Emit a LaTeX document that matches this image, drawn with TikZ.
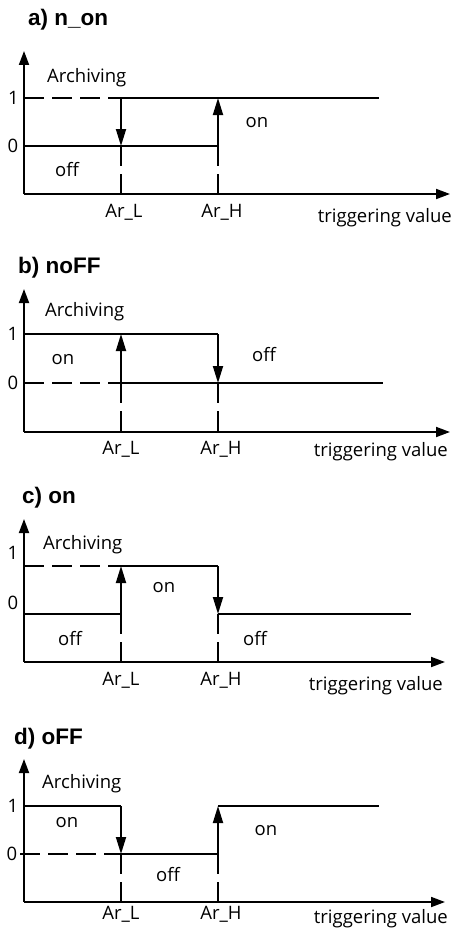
\documentclass[tikz,border=0pt]{standalone}
\usepackage{fontspec}
\setmainfont{Open Sans}
\newfontfamily\titlefont{Liberation Sans}
\usetikzlibrary{arrows.meta}
\newcommand\mkcoords[5]{%
 \coordinate (#1-O) at (24,0);
 \coordinate (#1-Y) at (24,-143);
 \coordinate (#1-X) at (#4,0);
 \coordinate (#1-S1) at (24,#2);
 \coordinate (#1-S0) at (24,#3);
 \coordinate (#1-L1) at (121,#2);
 \coordinate (#1-L0) at (121,#3);
 \coordinate (#1-Lb) at (121,0);
 \coordinate (#1-H1) at (218,#2);
 \coordinate (#1-H0) at (218,#3);
 \coordinate (#1-Hb) at (218,0);
 \coordinate (#1-E1) at (#5,#2);
 \coordinate (#1-E0) at (#5,#3);
 \draw[axisln] (#1-O) -- (#1-Y);
 \draw[axisln] (#1-O) -- (#1-X);
}
\begin{document}
\begin{tikzpicture}[x=1pt,y=-1pt,
  ln/.style={line width=1.8pt},
  axisln/.style={line width=1.8pt,-{Triangle[length=14pt,width=10pt]}},
  arr/.style={line width=1.8pt,-{Triangle[length=17pt,width=10pt]}},
  dsh/.style={line width=1.8pt,dash pattern=on 20pt off 8pt},
  lbl/.style={inner sep=0pt,font=\fontsize{18.5}{22}\selectfont},
  ttl/.style={inner sep=0pt,anchor=base west,font=\titlefont\bfseries\fontsize{22.5}{26}\selectfont},
]
\useasboundingbox (0,0) rectangle (457,934);

% ---------- a) n_on
\begin{scope}[shift={(0,194)}]
\mkcoords{a}{-96}{-48}{450}{379}
\draw[dsh] (a-S1) -- (a-L1);
\draw[ln] (a-L1) -- (a-E1);
\draw[ln] (a-S0) -- (a-H0);
\draw[arr] (a-L1) -- (a-L0);
\draw[dsh] (a-L0) -- (a-Lb);
\draw[arr] (a-H0) -- (a-H1);
\draw[dsh] (a-H0) -- (a-Hb);
\node[ttl] (a-t) at (28,-168) {a) n\_on};
\node[lbl,anchor=base west] (a-arch) at (47,-112) {Archiving};
\node[lbl] (a-one) at (13.5,-96) {1};
\node[lbl] (a-zero) at (13,-48) {0};
\node[lbl] (a-off) at (67,-24) {off};
\node[lbl] (a-on) at (257,-71) {on};
\node[lbl,anchor=base] (a-arl) at (124,23) {Ar\_L};
\node[lbl,anchor=base] (a-arh) at (222,23) {Ar\_H};
\node[lbl,anchor=base east] (a-tv) at (452,28) {triggering value};
\end{scope}

% ---------- b) noFF
\begin{scope}[shift={(0,432)}]
\mkcoords{b}{-98}{-49}{450}{383}
\draw[ln] (b-S1) -- (b-H1);
\draw[dsh] (b-S0) -- (b-L0);
\draw[ln] (b-L0) -- (b-E0);
\draw[arr] (b-L0) -- (b-L1);
\draw[dsh] (b-L0) -- (b-Lb);
\draw[arr] (b-H1) -- (b-H0);
\draw[dsh] (b-H0) -- (b-Hb);
\node[ttl] (b-t) at (18,-159) {b) noFF};
\node[lbl,anchor=base west] (b-arch) at (45,-116) {Archiving};
\node[lbl] (b-one) at (13,-98) {1};
\node[lbl] (b-zero) at (13,-49) {0};
\node[lbl] (b-on) at (63,-72) {on};
\node[lbl] (b-off) at (264,-77) {off};
\node[lbl,anchor=base] (b-arl) at (121,22) {Ar\_L};
\node[lbl,anchor=base] (b-arh) at (221,22) {Ar\_H};
\node[lbl,anchor=base east] (b-tv) at (448,24) {triggering value};
\end{scope}

% ---------- c) on
\begin{scope}[shift={(0,662)}]
\mkcoords{c}{-96}{-48}{445}{411}
\draw[dsh] (c-S1) -- (c-L1);
\draw[ln] (c-L1) -- (c-H1);
\draw[ln] (c-S0) -- (c-L0);
\draw[ln] (c-H0) -- (c-E0);
\draw[arr] (c-L0) -- (c-L1);
\draw[dsh] (c-L0) -- (c-Lb);
\draw[arr] (c-H1) -- (c-H0);
\draw[dsh] (c-H0) -- (c-Hb);
\node[ttl] (c-t) at (22,-159) {c) on};
\node[lbl,anchor=base west] (c-arch) at (43,-113) {Archiving};
\node[lbl] (c-one) at (13,-109) {1};
\node[lbl] (c-zero) at (13,-59) {0};
\node[lbl] (c-on) at (164,-74) {on};
\node[lbl] (c-offl) at (70,-23) {off};
\node[lbl] (c-offr) at (255,-23) {off};
\node[lbl,anchor=base] (c-arl) at (121,23) {Ar\_L};
\node[lbl,anchor=base] (c-arh) at (221,23) {Ar\_H};
\node[lbl,anchor=base east] (c-tv) at (443,28) {triggering value};
\end{scope}

% ---------- d) oFF
\begin{scope}[shift={(0,902)}]
\mkcoords{d}{-96}{-48}{445}{379}
\coordinate (d-S0x) at (20,-48);
\draw[ln] (d-S1) -- (d-L1);
\draw[ln] (d-H1) -- (d-E1);
\draw[dsh] (d-S0x) -- (d-L0);
\draw[ln] (d-L0) -- (d-H0);
\draw[arr] (d-L1) -- (d-L0);
\draw[dsh] (d-L0) -- (d-Lb);
\draw[arr] (d-H0) -- (d-H1);
\draw[dsh] (d-H0) -- (d-Hb);
\node[ttl] (d-t) at (14,-158) {d) oFF};
\node[lbl,anchor=base west] (d-arch) at (42,-114) {Archiving};
\node[lbl] (d-one) at (13,-96) {1};
\node[lbl] (d-zero) at (12,-48) {0};
\node[lbl] (d-onl) at (67,-79) {on};
\node[lbl] (d-onr) at (266,-71) {on};
\node[lbl] (d-off) at (168,-27) {off};
\node[lbl,anchor=base] (d-arl) at (121,17) {Ar\_L};
\node[lbl,anchor=base] (d-arh) at (221,17) {Ar\_H};
\node[lbl,anchor=base east] (d-tv) at (448,21) {triggering value};
\end{scope}
\end{tikzpicture}
\end{document}
